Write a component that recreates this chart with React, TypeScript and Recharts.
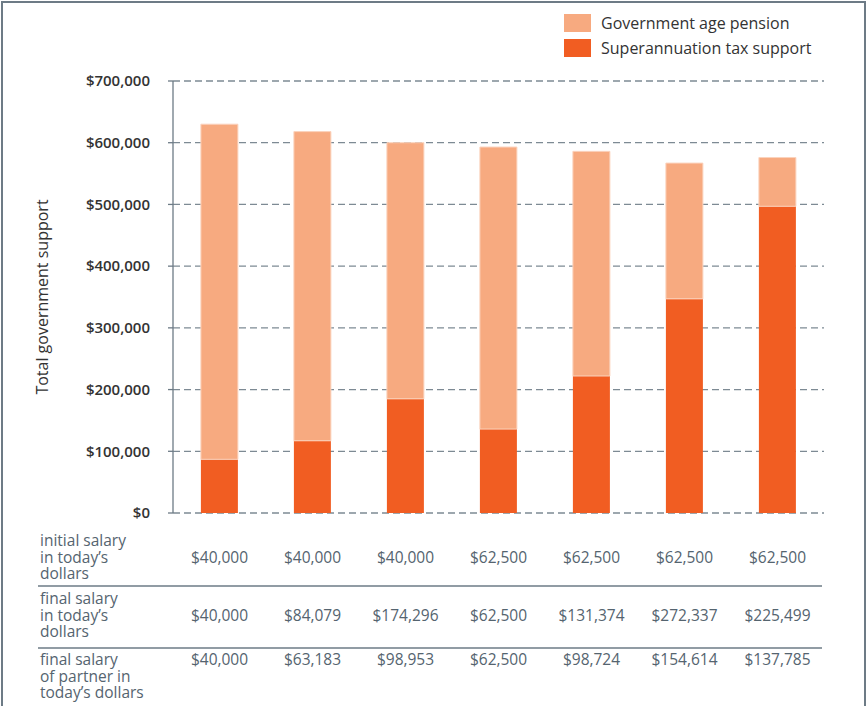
import React from 'react';
import {
    BarChart,
    Bar,
    XAxis,
    YAxis,
    CartesianGrid,
} from 'recharts';

const scenarios = ['S1', 'S2', 'S3', 'S4', 'S5', 'S6', 'S7'];
const superTaxSupport = [87000, 117000, 185000, 136000, 222000, 347000, 497000];
const agePension = [543000, 501000, 415000, 457000, 364000, 220000, 79000];
const yTicks = [0, 100000, 200000, 300000, 400000, 500000, 600000, 700000];

const initialSalary = ['$40,000', '$40,000', '$40,000', '$62,500', '$62,500', '$62,500', '$62,500'];
const finalSalary = ['$40,000', '$84,079', '$174,296', '$62,500', '$131,374', '$272,337', '$225,499'];
const partnerSalary = ['$40,000', '$63,183', '$98,953', '$62,500', '$98,724', '$154,614', '$137,785'];
const rowLabels = [
    'initial salary\nin today\u2019s\ndollars',
    'final salary\nin today\u2019s\ndollars',
    'final salary\nof partner in\ntoday\u2019s dollars',
];
const legendItems = ['Government age pension', 'Superannuation tax support'];

const data = scenarios.map((s, i) => ({
    scenario: s,
    superTax: superTaxSupport[i],
    pension: agePension[i],
}));

const PENSION = '#f7aa80';
const SUPER = '#f15d22';
const TEXT = '#55646f';
const FONT = '"Open Sans", "Noto Sans", sans-serif';

const fmt = (v: number) => '$' + v.toLocaleString('en-US');

// table values under the bars, drawn through the x axis ticks
const TableTick = (props: any) => {
    const { x, y, payload, index } = props;
    const i = payload?.index ?? index;
    const rowY = [y + 44, y + 102, y + 146];
    return (
        <g fontFamily={FONT} fontSize={15.5} fill={TEXT}>
            <text x={x} y={rowY[0]} textAnchor="middle" dominantBaseline="central">{initialSalary[i]}</text>
            <text x={x} y={rowY[1]} textAnchor="middle" dominantBaseline="central">{finalSalary[i]}</text>
            <text x={x} y={rowY[2]} textAnchor="middle" dominantBaseline="central">{partnerSalary[i]}</text>
            {i === 0 && (
                <g>
                    <line x1={38} x2={822} y1={y + 73} y2={y + 73} stroke="#6d7b86" strokeWidth={1.3} />
                    <line x1={38} x2={822} y1={y + 135} y2={y + 135} stroke="#6d7b86" strokeWidth={1.3} />
                </g>
            )}
        </g>
    );
};

const RowLabels = () => (
    <>
        {rowLabels.map((label, r) => (
            <div
                key={r}
                style={{
                    position: 'absolute',
                    left: 40,
                    top: [532, 590, 651][r],
                    fontFamily: FONT,
                    fontSize: 15.5,
                    lineHeight: '16.5px',
                    color: TEXT,
                    whiteSpace: 'pre',
                }}
            >
                {label}
            </div>
        ))}
    </>
);

const LegendBox = () => (
    <div style={{ position: 'absolute', left: 564, top: 10, fontFamily: FONT, fontSize: 16, color: '#333' }}>
        {legendItems.map((name, i) => (
            <div key={name} style={{ display: 'flex', alignItems: 'center', height: 25 }}>
                <span
                    style={{
                        display: 'inline-block',
                        width: 27,
                        height: 18,
                        background: i === 0 ? PENSION : SUPER,
                        marginRight: 10,
                    }}
                />
                <span>{name}</span>
            </div>
        ))}
    </div>
);

export default function App() {
    return (
        <div style={{ position: 'absolute', left: 0, top: 0, width: 866, height: 706, background: '#fff', overflow: 'hidden' }}>
            <div
                style={{
                    position: 'absolute',
                    left: 1,
                    top: 1,
                    width: 861,
                    height: 710,
                    borderTop: '2px solid #6d7b86',
                    borderLeft: '2px solid #6d7b86',
                    borderRight: '2px solid #6d7b86',
                }}
            />
            <LegendBox />
            <BarChart
                width={866}
                height={706}
                data={data}
                margin={{ top: 81, right: 42, bottom: 0, left: 0 }}
                barCategoryGap="30%"
            >
                <CartesianGrid vertical={false} stroke="#7d8a94" strokeDasharray="7 4" strokeWidth={1.3} />
                <XAxis
                    dataKey="scenario"
                    height={193}
                    axisLine={false}
                    tickLine={false}
                    tickSize={0}
                    tickMargin={0}
                    interval={0}
                    tick={<TableTick />}
                />
                <YAxis
                    width={173}
                    domain={[0, 700000]}
                    ticks={yTicks}
                    tickFormatter={fmt}
                    tickSize={5}
                    tickMargin={18}
                    axisLine={{ stroke: '#6d7b86', strokeWidth: 1.3 }}
                    tickLine={{ stroke: '#6d7b86', strokeWidth: 1.3 }}
                    tick={{ fill: '#333', fontSize: 15, fontFamily: FONT, fontWeight: 600 }}
                    label={{
                        value: 'Total government support',
                        angle: -90,
                        position: 'insideLeft',
                        offset: 42,
                        style: { textAnchor: 'middle', fill: '#333', fontSize: 16, fontFamily: FONT },
                    }}
                />
                <Bar dataKey="superTax" stackId="a" fill={SUPER} isAnimationActive={false} />
                <Bar dataKey="pension" stackId="a" fill={PENSION} stroke="#fbd3bd" strokeWidth={1} isAnimationActive={false} />
            </BarChart>
            <RowLabels />
        </div>
    );
}
